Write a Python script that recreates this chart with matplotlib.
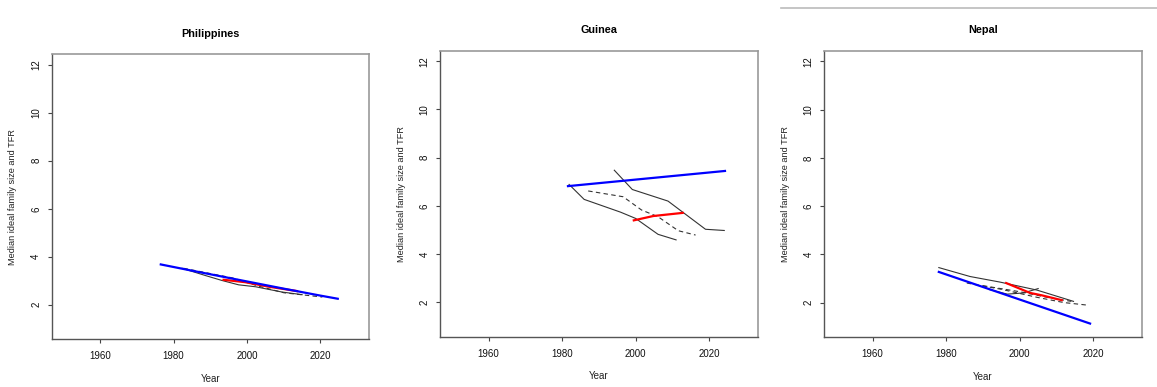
import numpy as np
import matplotlib.pyplot as plt
from matplotlib.lines import Line2D

plt.rcParams['font.family'] = ['Liberation Sans', 'DejaVu Sans']

# Philippines
ph_blue_yr = [1976.5, 1985, 1995, 2000, 2010, 2020, 2024.7]
ph_blue = [3.68, 3.42, 3.12, 2.97, 2.67, 2.38, 2.25]
ph_red_yr = [1993.6, 1999.5, 2006, 2013.6]
ph_red = [3.04, 2.94, 2.75, 2.57]
ph_solid_yr = [1982.3, 1988.6, 1993.2, 1997.7, 2002.3, 2009.5, 2015]
ph_solid = [3.52, 3.22, 3.01, 2.83, 2.75, 2.53, 2.42]
ph_dash_yr = [1982.7, 1990, 1996, 2003, 2010, 2020.5]
ph_dash = [3.52, 3.30, 3.12, 2.78, 2.50, 2.32]

# Guinea
gn_blue_yr = [1981.6, 2024.3]
gn_blue = [6.82, 7.45]
gn_red_yr = [1999.5, 2004.8, 2012.8]
gn_red = [5.40, 5.58, 5.71]
gn_solid1_yr = [1981.9, 1986.0, 1995.9, 2000.0, 2006.1, 2011.0]
gn_solid1 = [6.89, 6.27, 5.74, 5.48, 4.82, 4.59]
gn_solid2_yr = [1994.2, 1999.1, 2008.8, 2019.0, 2024.1]
gn_solid2 = [7.48, 6.68, 6.20, 5.03, 4.98]
gn_dash_yr = [1987.1, 1996.6, 2001.6, 2006.1, 2011.6, 2016.3]
gn_dash = [6.62, 6.38, 5.83, 5.55, 4.97, 4.79]

# Nepal
np_blue_yr = [1978.0, 2019.1]
np_blue = [3.27, 1.13]
np_red_yr = [1996.3, 2002.8, 2006.0, 2011.4]
np_red = [2.81, 2.40, 2.30, 2.10]
np_solid1_yr = [1978.0, 1986.5, 1994.6, 2004.6, 2014.6]
np_solid1 = [3.45, 3.08, 2.85, 2.52, 2.05]
np_solid2_yr = [1991.5, 1996.6, 2001.0, 2005.0]
np_solid2 = [2.55, 2.35, 2.40, 2.58]
np_dash1_yr = [1985.6, 1995.0, 2004.6, 2012.0, 2018.6]
np_dash1 = [2.81, 2.55, 2.22, 2.00, 1.89]
np_dash2_yr = [1990.0, 2000.0, 2008.0, 2014.0]
np_dash2 = [2.70, 2.45, 2.20, 2.05]

panels = [
    ("Philippines", [0.0447, 0.1233, 0.2742, 0.7364], 34,
     [(ph_solid_yr, ph_solid, '-'), (ph_dash_yr, ph_dash, '--')],
     (ph_red_yr, ph_red), (ph_blue_yr, ph_blue)),
    ("Guinea", [0.3803, 0.1292, 0.2746, 0.7398], 30,
     [(gn_solid1_yr, gn_solid1, '-'), (gn_solid2_yr, gn_solid2, '-'),
      (gn_dash_yr, gn_dash, '--')],
     (gn_red_yr, gn_red), (gn_blue_yr, gn_blue)),
    ("Nepal", [0.7122, 0.1284, 0.2748, 0.7405], 30,
     [(np_solid1_yr, np_solid1, '-'), (np_solid2_yr, np_solid2, '-'),
      (np_dash1_yr, np_dash1, '--'), (np_dash2_yr, np_dash2, '--')],
     (np_red_yr, np_red), (np_blue_yr, np_blue)),
]

fig = plt.figure(figsize=(11.57, 3.87), dpi=100)

for name, pos, title_y, blacks, red, blue in panels:
    ax = fig.add_axes(pos)
    for yr, val, ls in blacks:
        ax.plot(yr, val, color='#333333', lw=0.8, ls=ls,
                dashes=(4, 3) if ls == '--' else (None, None))
    ax.plot(red[0], red[1], color='#ff0000', lw=1.6)
    ax.plot(blue[0], blue[1], color='#0000ff', lw=1.6)
    ax.set_xlim(1946.8, 2033.2)
    ax.set_ylim(0.56, 12.44)
    ax.set_xticks([1960, 1980, 2000, 2020])
    ax.set_yticks([2, 4, 6, 8, 10, 12])
    ax.tick_params(axis='x', length=3, width=0.8, color='#444444',
                   labelsize=7, pad=5.5, labelcolor='#111111')
    ax.tick_params(axis='y', length=3, width=0.8, color='#444444',
                   labelsize=7, pad=4.5, labelcolor='#111111')
    for lab in ax.get_yticklabels():
        lab.set_rotation(90)
        lab.set_va('center')
    for side in ['left', 'bottom']:
        ax.spines[side].set_color('#555555')
        ax.spines[side].set_linewidth(1.0)
    for side in ['top', 'right']:
        ax.spines[side].set_color('#999999')
        ax.spines[side].set_linewidth(1.2)
    ax.set_xlabel('Year', fontsize=7, labelpad=9, color='#222222')
    ax.set_ylabel('Median ideal family size and TFR', fontsize=6.6,
                  labelpad=10, color='#222222')
    cx = (pos[0] + pos[2] / 2)
    fig.text(cx, 1 - title_y / 387, name, ha='center', va='center',
             fontsize=7.8, fontweight='bold')

# thin rule above the last panel
fig.add_artist(Line2D([781 / 1157, 1.0], [1 - 8 / 387, 1 - 8 / 387],
                      color='#bbbbbb', lw=1.2))

fig.savefig('out.png', dpi=100)
